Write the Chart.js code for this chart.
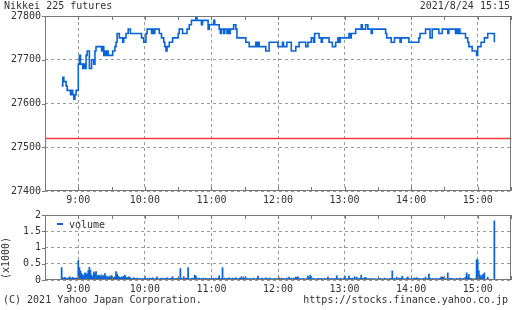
<!DOCTYPE html>
<html><head><meta charset="utf-8">
<script src="https://cdn.jsdelivr.net/npm/chart.js@4/dist/chart.umd.min.js"></script>
<style>
html,body{margin:0;padding:0;background:#fff;}
body{width:512px;height:310px;position:relative;overflow:hidden;font-family:"DejaVu Sans Mono",monospace;font-size:10px;color:#333;}
.t{position:absolute;line-height:12px;white-space:nowrap;}
#c1{position:absolute;left:0;top:0;}
#c2{position:absolute;left:0;top:205px;}
#lg{position:absolute;left:57px;top:223px;width:6px;height:2px;background:#0a64d8;}
</style></head><body>
<canvas id="c1" width="512" height="206"></canvas>
<canvas id="c2" width="512" height="105"></canvas>
<div class="t" style="left:4px;top:0">Nikkei 225 futures</div>
<div class="t" style="right:2px;top:0">2021/8/24 15:15</div>
<div class="t" style="left:3px;top:294px">(C) 2021 Yahoo Japan Corporation.</div>
<div class="t" style="right:4px;top:294px">https://stocks.finance.yahoo.co.jp</div>
<div class="t" style="left:6px;top:258px;transform:translate(-50%,-50%) rotate(-90deg)">(x1000)</div>
<div id="lg"></div>
<div class="t" style="left:69px;top:219px">volume</div>
<script>
const priceTimes = ['8:45','8:46','8:47','8:49','8:50','8:53','8:54','8:55','8:56','8:57','8:58',
 '9:00','9:01','9:02','9:04','9:05','9:06','9:07','9:08','9:10','9:12','9:14','9:15','9:16','9:21','9:22','9:23','9:24','9:25','9:26','9:27',
 '9:31','9:33','9:34','9:35','9:37','9:40','9:41','9:43','9:45','9:47','9:57','9:59',
 '10:01','10:02','10:06','10:07','10:08','10:09','10:13','10:15','10:17','10:18','10:19','10:20','10:22','10:25','10:30','10:31','10:34','10:38','10:40','10:42','10:46','10:47','10:51','10:52','10:57','10:58',
 '11:02','11:03','11:07','11:08','11:09','11:11','11:12','11:14','11:15','11:16','11:17','11:20','11:22','11:23','11:31','11:34','11:40','11:41','11:42','11:43','11:49','11:52',
 '12:00','12:04','12:05','12:08','12:12','12:16','12:19','12:25','12:27','12:30','12:32','12:33','12:37','12:39','12:40','12:46','12:49','12:52','12:54','12:55','12:56',
 '13:04','13:05','13:06','13:10','13:15','13:16','13:19','13:21','13:24','13:25','13:37','13:38','13:42','13:45','13:50','13:51','13:58',
 '14:07','14:08','14:13','14:17','14:19','14:25','14:28','14:33','14:34','14:40','14:41','14:42','14:43','14:44','14:49','14:51','14:52','14:55','14:59',
 '15:00','15:03','15:06','15:09','15:15'];
const priceValues = [27640,27660,27650,27640,27630,27620,27630,27620,27610,27620,27630,
 27690,27710,27690,27680,27690,27680,27710,27720,27680,27700,27690,27720,27730,27720,27730,27710,27720,27710,27720,27710,
 27720,27730,27740,27760,27750,27740,27750,27760,27770,27760,27750,27740,
 27760,27770,27760,27770,27760,27770,27760,27750,27740,27730,27720,27730,27740,27750,27760,27770,27760,27770,27780,27790,27800,27790,27780,27790,27770,27780,
 27790,27780,27770,27760,27770,27760,27770,27760,27770,27760,27770,27780,27770,27750,27740,27730,27740,27730,27740,27730,27720,27740,
 27730,27740,27730,27740,27720,27730,27740,27730,27740,27750,27740,27760,27750,27740,27750,27740,27730,27740,27750,27740,27750,
 27760,27750,27760,27770,27780,27770,27780,27770,27760,27770,27760,27750,27740,27750,27740,27750,27740,
 27750,27760,27770,27750,27770,27760,27770,27760,27770,27760,27770,27760,27770,27760,27750,27740,27730,27720,27710,
 27730,27740,27750,27760,27740];
const prevClose = 27520;
const hourLabels = ['9:00','10:00','11:00','12:00','13:00','14:00','15:00'];
const priceTicks = [27400,27500,27600,27700,27800];
const volTicks = [0,0.5,1,1.5,2];
const volStart = '8:45';
// volume per minute from 8:45 (x1000)
const volume = [
 0.38,0.07,0.05,0.08,0.04,0.06,0.05,0.1,0.07,0.05,0.08,0.06,0.04,0.07,0.05,
 0.6,0.38,0.28,0.2,0.15,0.14,0.22,0.2,0.18,0.29,0.39,0.3,0.15,0.1,0.25,
 0.2,0.26,0.12,0.15,0.14,0.12,0.16,0.1,0.14,0.2,0.12,0.1,0.08,0.12,0.09,
 0.14,0.08,0.07,0.1,0.26,0.18,0.12,0.09,0.07,0.1,0.08,0.12,0.14,0.09,0.07,
 0.08,0.1,0.06,0.05,0.04,0.07,0.05,0.04,0.06,0.03,0.05,0.04,0.03,0.05,0.04,
 0.06,0.04,0.05,0.03,0.06,0.04,0.05,0.07,0.04,0.03,0.05,0.1,0.04,0.03,0.05,
 0.04,0.06,0.03,0.05,0.04,0.07,0.03,0.05,0.04,0.06,0.1,0.04,0.03,0.05,0.04,
 0.06,0.04,0.35,0.05,0.03,0.1,0.04,0.06,0.05,0.38,0.04,0.03,0.05,0.06,0.04,
 0.15,0.12,0.05,0.04,0.06,0.03,0.05,0.04,0.06,0.03,0.05,0.04,0.03,0.05,0.04,
 0.05,0.04,0.06,0.03,0.05,0.04,0.06,0.13,0.04,0.05,0.38,0.04,0.06,0.03,0.05,
 0.04,0.07,0.03,0.05,0.06,0.04,0.05,0.07,0.04,0.03,0.06,0.05,0.1,0.04,0.09,
 0.05,0.04,0.06,0.03,0.04,0.05,0.03,0.04,0.06,0.03,0.04,0.05,0.12,0.04,0.03,
 0.05,0.06,0.03,0.04,0.07,0.03,0.05,0.04,0.06,0.03,0.04,0.03,0.05,0.04,0.03,
 0.05,0.07,0.03,0.06,0.04,0.05,0.03,0.04,0.06,0.03,0.09,0.04,0.05,0.03,0.06,
 0.04,0.09,0.08,0.1,0.03,0.05,0.04,0.03,0.05,0.04,0.03,0.04,0.12,0.06,0.15,
 0.08,0.04,0.05,0.03,0.04,0.03,0.05,0.04,0.03,0.05,0.04,0.03,0.05,0.04,0.03,
 0.09,0.04,0.03,0.05,0.04,0.03,0.05,0.04,0.13,0.04,0.03,0.05,0.04,0.03,0.04,
 0.09,0.05,0.04,0.03,0.12,0.05,0.04,0.06,0.03,0.1,0.04,0.09,0.03,0.05,0.04,
 0.15,0.05,0.04,0.07,0.08,0.05,0.03,0.04,0.03,0.05,0.03,0.04,0.03,0.04,0.03,
 0.04,0.03,0.05,0.03,0.04,0.03,0.06,0.04,0.03,0.04,0.03,0.05,0.04,0.28,0.04,
 0.05,0.03,0.09,0.04,0.05,0.06,0.05,0.12,0.03,0.04,0.03,0.06,0.09,0.04,0.03,
 0.04,0.03,0.05,0.06,0.05,0.07,0.04,0.05,0.03,0.04,0.03,0.05,0.04,0.09,0.03,
 0.04,0.18,0.05,0.03,0.05,0.04,0.03,0.05,0.04,0.03,0.04,0.05,0.09,0.09,0.09,
 0.05,0.04,0.03,0.22,0.04,0.05,0.04,0.05,0.03,0.04,0.03,0.05,0.04,0.03,0.06,
 0.04,0.03,0.05,0.04,0.09,0.22,0.09,0.17,0.04,0.05,0.03,0.04,0.03,0.04,0.62,
 0.62,0.28,0.14,0.09,0.15,0.17,0.22,0,0,0.09,0,0,0,0,0,
 1.82];

const toMin = s => { const [h,m] = s.split(':').map(Number); return h*60 + m - 510; };
const BLUE = '#0a64d8', RED = '#f03c3c', GRID = '#9a9a9a', FRAME = '#777', TXT = '#333';
const FONT = {family:'"DejaVu Sans Mono", monospace', size:10};

const frame = { id:'frame', afterDraw(chart){
  const {ctx, chartArea:a, scales} = chart;
  ctx.save(); ctx.strokeStyle = FRAME; ctx.lineWidth = 1; ctx.beginPath();
  for (let m = 0; m <= 420; m += 30) {
    const x = Math.round(scales.x.getPixelForValue(m)) + 0.5;
    ctx.moveTo(x, a.top); ctx.lineTo(x, a.top + 4);
    ctx.moveTo(x, a.bottom); ctx.lineTo(x, a.bottom - 4);
  }
  for (const t of scales.y.ticks) {
    const y = Math.round(scales.y.getPixelForValue(t.value)) + 0.5;
    ctx.moveTo(a.left - 3, y); ctx.lineTo(a.left, y);
  }
  ctx.stroke();
  ctx.strokeRect(Math.round(a.left) + 0.5, Math.round(a.top) + 0.5, Math.round(a.right - a.left) - 1, Math.round(a.bottom - a.top) - 1);
  ctx.restore();
}};

function xScale(h){
  return {type:'linear', min:0, max:420, offset:false,
    afterBuildTicks: s => { s.ticks = hourLabels.map(l => ({value: toMin(l)})); },
    ticks:{font:FONT, color:TXT, padding:3, maxRotation:0, autoSkip:false,
      callback: v => { const l = hourLabels.find(l => toMin(l) === v); return l || ''; }},
    grid:{color:GRID, drawTicks:false, offset:false},
    border:{display:false, dash:[3,3]},
    afterFit: s => { s.height = h; }};
}
function yScale(min, max, ticks, pad){
  return {min, max,
    afterBuildTicks: s => { s.ticks = ticks.map(v => ({value:v})); },
    ticks:{font:FONT, color:TXT, padding:pad, callback: v => String(v)},
    grid:{color:GRID, drawTicks:false},
    border:{display:false, dash:[3,3]},
    afterFit: s => { s.width = 45; }};
}

new Chart(document.getElementById('c1'), {
  type:'line',
  data:{datasets:[
    {data: priceTimes.map((t,i) => ({x: toMin(t), y: priceValues[i]})), borderColor:BLUE, borderWidth:1.6, pointRadius:0, stepped:true, fill:false},
    {data: [{x:0, y:prevClose}, {x:420, y:prevClose}], borderColor:RED, borderWidth:1.5, pointRadius:0, fill:false}
  ]},
  options:{responsive:false, animation:false, events:[],
    layout:{padding:{top:16, right:1, left:0, bottom:0}},
    plugins:{legend:{display:false}, tooltip:{enabled:false}},
    scales:{x: xScale(15), y: yScale(27400, 27800, priceTicks, 4)}},
  plugins:[frame]
});

const v0 = toMin(volStart);
new Chart(document.getElementById('c2'), {
  type:'bar',
  data:{datasets:[
    {data: volume.map((v,i) => ({x: v0 + i, y: v})), backgroundColor:BLUE, borderWidth:0, barPercentage:1, categoryPercentage:1}
  ]},
  options:{responsive:false, animation:false, events:[],
    layout:{padding:{top:10, right:1, left:0, bottom:0}},
    plugins:{legend:{display:false}, tooltip:{enabled:false}},
    scales:{x: xScale(30), y: yScale(0, 2, volTicks, 4)}},
  plugins:[frame]
});
</script>
</body></html>
